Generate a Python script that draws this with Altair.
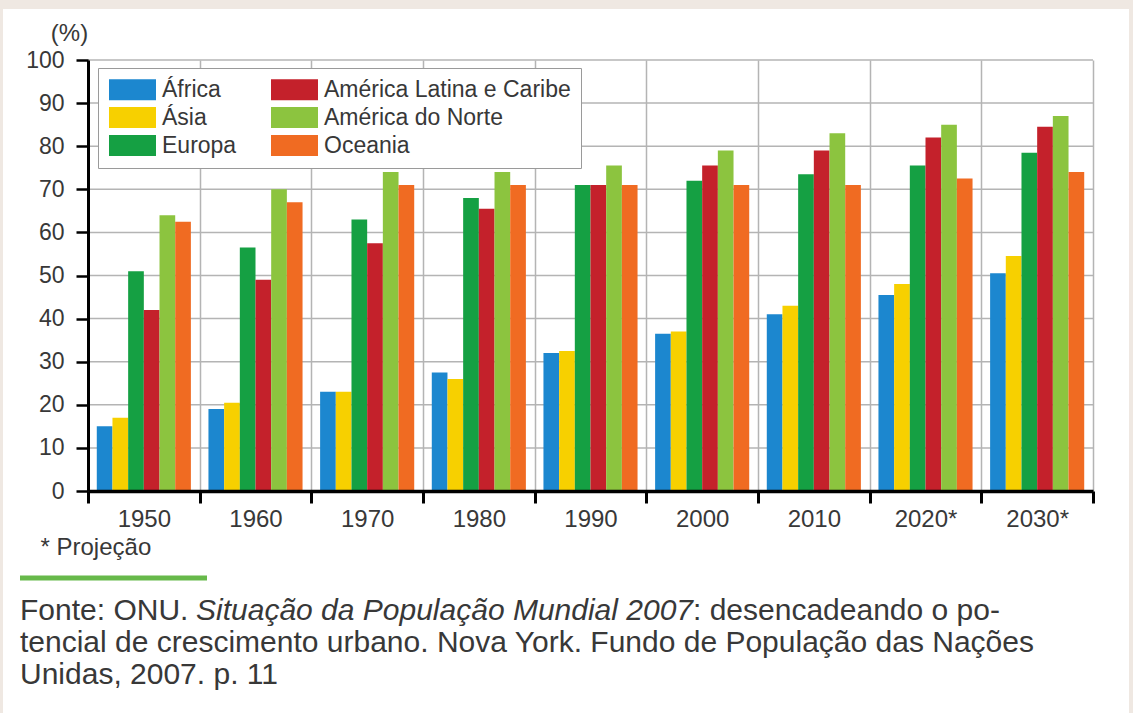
import altair as alt
import pandas as pd

# Urban population share (%) by region, 1950-2030 (2020 and 2030 projected)
anos = ["1950", "1960", "1970", "1980", "1990", "2000", "2010", "2020*", "2030*"]
regioes = ["África", "Ásia", "Europa", "América Latina e Caribe", "América do Norte", "Oceania"]
cores = ["#1c87cf", "#f7d000", "#15a043", "#c4212b", "#8cc43f", "#f06b22"]

africa = [15, 19, 23, 27.5, 32, 36.5, 41, 45.5, 50.5]
asia = [17, 20.5, 23, 26, 32.5, 37, 43, 48, 54.5]
europa = [51, 56.5, 63, 68, 71, 72, 73.5, 75.5, 78.5]
america_latina = [42, 49, 57.5, 65.5, 71, 75.5, 79, 82, 84.5]
america_norte = [64, 70, 74, 74, 75.5, 79, 83, 85, 87]
oceania = [62.5, 67, 71, 71, 71, 71, 71, 72.5, 74]

marcas_y = list(range(0, 101, 10))

fonte_l1 = ["Fonte: ONU. ", "Situação da População Mundial 2007", ": desencadeando o po-"]
fonte_l2 = "tencial de crescimento urbano. Nova York. Fundo de População das Nações"
fonte_l3 = "Unidas, 2007. p. 11"

series = [africa, asia, europa, america_latina, america_norte, oceania]
linhas = []
for regiao, valores in zip(regioes, series):
    for ano, v in zip(anos, valores):
        linhas.append({"ano": ano, "regiao": regiao, "valor": v})
df = pd.DataFrame(linhas)

W, H = 1005, 431
FONT = "Liberation Sans"
TXT = "#383838"
GRID = "#b4b4b4"
BEIGE = "#efe8e2"

y_scale = alt.Scale(domain=[0, 100], nice=False, zero=True)
y_axis = alt.Axis(
    values=marcas_y, grid=False, tickSize=12, tickWidth=2.5,
    tickColor="black", domainColor="black", domainWidth=3,
    labelFont=FONT, labelFontSize=23, labelColor=TXT, labelPadding=12,
    title="(%)", titleAngle=0, titleX=-19, titleY=-27,
    titleAlign="center", titleBaseline="middle", titleFont=FONT,
    titleFontSize=24, titleFontWeight="normal", titleColor=TXT,
    zindex=2,
)

# horizontal gridlines sit beneath the bars
grade = alt.Chart(pd.DataFrame({"valor": marcas_y})).mark_rule(
    color=GRID, strokeWidth=1.5
).encode(
    y=alt.Y("valor:Q", scale=y_scale, axis=y_axis)
)

barras = alt.Chart(df).mark_bar().encode(
    x=alt.X(
        "ano:N", sort=anos,
        scale=alt.Scale(paddingInner=0, paddingOuter=0),
        axis=alt.Axis(
            tickBand="extent", labelAngle=0, labelFont=FONT, labelFontSize=24,
            labelColor=TXT, labelPadding=4, tickSize=12, tickWidth=3,
            tickColor="black", domainColor="black", domainWidth=3.5,
            grid=True, gridColor=GRID, gridWidth=1.5,
            title="* Projeção", titleX=-48, titleY=56, titleAlign="left",
            titleBaseline="middle", titleFont=FONT, titleFontSize=24,
            titleFontWeight="normal", titleColor=TXT, zindex=1,
        ),
    ),
    xOffset=alt.XOffset(
        "regiao:N", sort=regioes,
        scale=alt.Scale(paddingInner=0, paddingOuter=0.56),
    ),
    y=alt.Y("valor:Q", scale=y_scale, axis=y_axis),
    color=alt.Color(
        "regiao:N",
        scale=alt.Scale(domain=regioes, range=cores),
        legend=alt.Legend(
            title=None, orient="none", legendX=10, legendY=8, columns=2,
            direction="vertical",
            symbolType="M-1,-1H3.476V1H-1Z", symbolSize=441,
            symbolStrokeWidth=0, labelFont=FONT, labelFontSize=23,
            labelColor=TXT, labelOffset=31, labelLimit=400, rowPadding=4,
            columnPadding=33, padding=10, fillColor="white",
            strokeColor="#9a9a9a", zindex=3,
        ),
    ),
)

um = pd.DataFrame({"k": [0]})

def faixa(x0, x1, y0, y1):
    return alt.Chart(um).mark_rect(color=BEIGE).encode(
        x=alt.value(x0), x2=alt.value(x1), y=alt.value(y0), y2=alt.value(y1)
    )

moldura = [
    faixa(-88, 1133 - 88, -60, 9 - 60),
    faixa(-88, 3 - 88, -60, 713 - 60),
    faixa(1129 - 88, 1133 - 88, -60, 713 - 60),
]

linha_verde = alt.Chart(um).mark_rule(color="#67b94a", strokeWidth=5).encode(
    x=alt.value(20 - 88), x2=alt.value(207 - 88), y=alt.value(578 - 60)
)

def texto(t, x, y, italic=False):
    return alt.Chart(um).mark_text(
        align="left", baseline="middle", font=FONT, fontSize=30, color=TXT,
        fontStyle="italic" if italic else "normal",
    ).encode(x=alt.value(x), y=alt.value(y), text=alt.value(t))

textos = [
    texto(fonte_l1[0], 20 - 88, 611 - 60),
    texto(fonte_l1[1], 196 - 88, 611 - 60, italic=True),
    texto(fonte_l1[2], 693 - 88, 611 - 60),
    texto(fonte_l2, 20 - 88, 643 - 60),
    texto(fonte_l3, 20 - 88, 675 - 60),
]

chart = alt.layer(grade, barras, *moldura, linha_verde, *textos).properties(
    width=W, height=H,
    autosize=alt.AutoSizeParams(type="none"),
    padding={"left": 88, "top": 60, "right": 1133 - 88 - W, "bottom": 713 - 60 - H},
    background="white",
).configure_view(strokeWidth=0)

chart.save("out.html", embed_options={"renderer": "svg", "actions": False})
